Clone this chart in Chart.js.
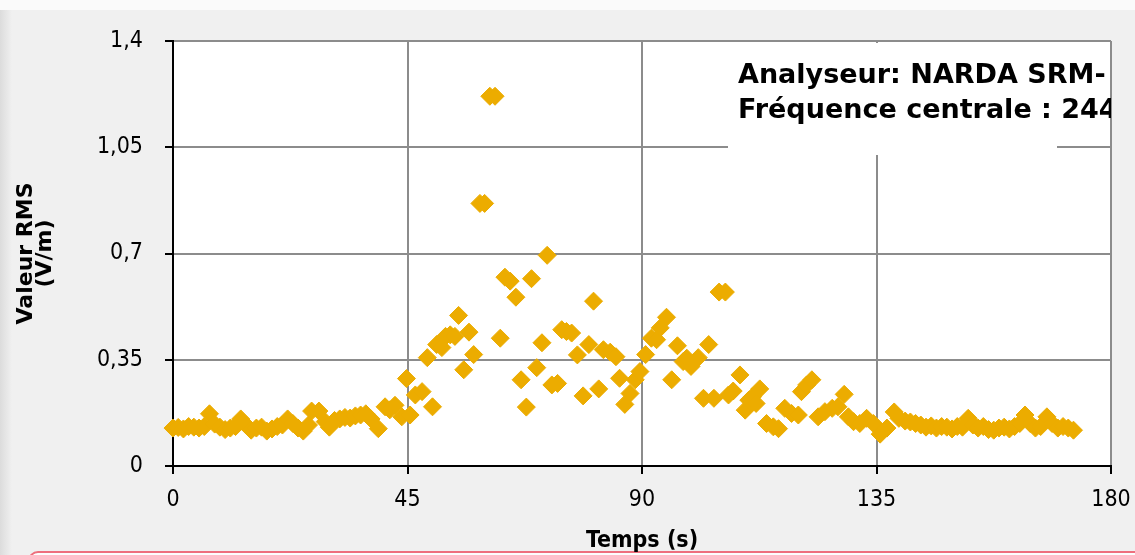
<!DOCTYPE html>
<html>
<head>
<meta charset="utf-8">
<script src="https://cdn.jsdelivr.net/npm/chart.js@4/dist/chart.umd.min.js"></script>
<style>
    html, body { margin: 0; padding: 0; }
    body {
        width: 1135px; height: 555px; overflow: hidden; position: relative;
        background: linear-gradient(to right, #dcdcdc 0px, #f0f0f0 12px, #f0f0f0 100%);
    }
    .top-strip { position: absolute; left: 0; top: 0; width: 1135px; height: 10px; background: #fafafa; }
    .bottom-frame {
        position: absolute; left: 28px; top: 551px; width: 1120px; height: 20px;
        border: 2px solid #ee6f7d; border-radius: 10px; background: #fdfdfd;
    }
    #wrap { position: absolute; left: 0; top: 0; width: 1135px; height: 555px; }
</style>
</head>
<body>
<div class="top-strip"></div>
<div class="bottom-frame"></div>
<div id="wrap"><canvas id="rmsChart" width="1135" height="555"></canvas></div>
<script>
// Temps (s) et valeur RMS (V/m)
const times = [
    0, 1, 2, 3, 4, 5, 6, 7, 8, 9, 10, 11, 12, 13, 14, 15, 16, 17, 18, 19,
    20, 21, 22, 23, 24, 25, 26, 26.6, 28, 29.2, 30, 31, 32, 33, 34, 35, 36, 37, 38, 39.4,
    40.7, 41.6, 42.6, 43.9, 44.8, 45.5, 46.5, 47.8, 48.8, 49.8, 50.6, 51.6, 52.3, 53.2, 54.1, 54.8, 55.8, 56.8, 57.7, 58.9,
    59.8, 60.8, 61.8, 62.8, 63.7, 64.7, 65.8, 66.8, 67.8, 68.8, 69.8, 70.8, 71.8, 72.7, 73.8, 74.6, 75.5, 76.5, 77.6, 78.7,
    79.8, 80.7, 81.7, 82.6, 83.9, 85, 85.7, 86.7, 87.7, 88.7, 89.6, 90.7, 91.8, 92.8, 93.5, 94.7, 95.7, 96.8, 97.9, 98.6,
    99.4, 100.8, 101.8, 102.8, 103.8, 104.8, 106, 106.6, 107.5, 108.8, 109.8, 110.5, 111.2, 111.9, 112.6, 113.9, 115.2, 116.2, 117.4, 118.7,
    120, 120.6, 121.6, 122.6, 123.8, 125.1, 126.5, 127.6, 128.8, 129.6, 130.6, 131.8, 133.1, 134.4, 135.7, 137, 138.4, 139.3, 140.5, 141.5,
    142.5, 143.5, 144.5, 145.5, 146.5, 147.5, 148.5, 149.5, 150.5, 151.5, 152.6, 153.5, 154.5, 155.5, 156.5, 157.5, 158.5, 159.5, 160.5, 161.5,
    162.5, 163.5, 164.5, 165.5, 166.5, 167.7, 168.7, 169.8, 170.8, 171.8, 172.8
];
const rmsValues = [
    0.125, 0.127, 0.122, 0.13, 0.128, 0.125, 0.13, 0.172, 0.138, 0.128, 0.12, 0.125, 0.13, 0.155, 0.135, 0.118, 0.125, 0.128, 0.115, 0.122,
    0.13, 0.135, 0.155, 0.14, 0.125, 0.115, 0.135, 0.181, 0.181, 0.146, 0.128, 0.15, 0.155, 0.16, 0.158, 0.165, 0.168, 0.172, 0.155, 0.123,
    0.195, 0.185, 0.2, 0.162, 0.288, 0.168, 0.234, 0.245, 0.357, 0.195, 0.4, 0.39, 0.427, 0.432, 0.427, 0.496, 0.317, 0.441, 0.367, 0.865,
    0.865, 1.218, 1.218, 0.421, 0.622, 0.609, 0.556, 0.284, 0.194, 0.617, 0.324, 0.406, 0.694, 0.267, 0.272, 0.449, 0.443, 0.438, 0.366, 0.231,
    0.4, 0.543, 0.254, 0.383, 0.375, 0.36, 0.289, 0.203, 0.239, 0.284, 0.311, 0.367, 0.421, 0.416, 0.455, 0.49, 0.284, 0.396, 0.344, 0.355,
    0.328, 0.357, 0.223, 0.4, 0.223, 0.573, 0.573, 0.234, 0.247, 0.3, 0.184, 0.217, 0.228, 0.206, 0.254, 0.14, 0.129, 0.123, 0.19, 0.173,
    0.168, 0.245, 0.267, 0.284, 0.162, 0.179, 0.19, 0.195, 0.236, 0.162, 0.146, 0.14, 0.157, 0.14, 0.105, 0.125, 0.178, 0.157, 0.148, 0.145,
    0.14, 0.135, 0.128, 0.132, 0.125, 0.13, 0.128, 0.122, 0.13, 0.128, 0.157, 0.135, 0.125, 0.13, 0.12, 0.118, 0.125, 0.128, 0.122, 0.13,
    0.14, 0.168, 0.14, 0.125, 0.13, 0.162, 0.14, 0.125, 0.13, 0.125, 0.118
];
const xTicks = [0, 45, 90, 135, 180];
const yTicks = [0, 0.35, 0.7, 1.05, 1.4];
const noteLines = ['Analyseur: NARDA SRM-', 'Fréquence centrale : 244'];

// fond blanc de la zone de tracé
const plotBackground = {
    id: 'plotBackground',
    beforeDraw(chart) {
        const {ctx, chartArea: a} = chart;
        ctx.save();
        ctx.fillStyle = '#ffffff';
        ctx.fillRect(a.left, a.top, a.right - a.left, a.bottom - a.top);
        ctx.restore();
    }
};

// encart texte (coupé au bord de la zone de tracé)
const noteBox = {
    id: 'noteBox',
    beforeDatasetsDraw(chart) {
        const {ctx, chartArea: a} = chart;
        ctx.save();
        ctx.fillStyle = '#ffffff';
        ctx.fillRect(728, a.top + 2, 329, 112);
        ctx.beginPath();
        ctx.rect(a.left, a.top, a.right - a.left, a.bottom - a.top);
        ctx.clip();
        ctx.fillStyle = '#000000';
        ctx.font = 'bold 27px "DejaVu Sans"';
        ctx.textBaseline = 'alphabetic';
        ctx.fillText(noteLines[0], 738, 83);
        ctx.fillText(noteLines[1], 738, 118);
        ctx.restore();
    }
};

function initRmsChart() {
    const ctx = document.getElementById('rmsChart');
    new Chart(ctx, {
        type: 'scatter',
        data: {
            datasets: [{
                data: times.map((t, i) => ({x: t, y: rmsValues[i]})),
                pointStyle: 'rectRot',
                pointRadius: 9,
                backgroundColor: '#ecac00',
                borderColor: '#ecac00',
                borderWidth: 1,
                clip: false
            }]
        },
        options: {
            responsive: false,
            animation: false,
            devicePixelRatio: 1,
            layout: { padding: { left: 0, top: 41, right: 24, bottom: 0 } },
            plugins: { legend: { display: false }, tooltip: { enabled: false } },
            scales: {
                x: {
                    type: 'linear', min: 0, max: 180,
                    afterBuildTicks: s => { s.ticks = xTicks.map(v => ({value: v})); },
                    afterFit: s => { s.height = 89; s.paddingLeft = 0; s.paddingRight = 0; },
                    grid: { color: '#8c8c8c', lineWidth: 2, tickLength: 8, tickColor: '#000', tickWidth: 2 },
                    border: { color: '#000', width: 2 },
                    ticks: { color: '#000', padding: 12, maxRotation: 0, font: { family: 'DejaVu Sans Condensed', size: 23 } },
                    title: {
                        display: true, text: 'Temps (s)', color: '#000',
                        font: { family: 'DejaVu Sans Condensed', size: 23, weight: 'bold' },
                        padding: { top: 0, bottom: 0 }
                    }
                },
                y: {
                    type: 'linear', min: 0, max: 1.4,
                    afterBuildTicks: s => { s.ticks = yTicks.map(v => ({value: v})); },
                    afterFit: s => { s.width = 173; s.paddingTop = 0; s.paddingBottom = 0; },
                    grid: { color: '#8c8c8c', lineWidth: 2, tickLength: 8, tickColor: '#000', tickWidth: 2 },
                    border: { color: '#000', width: 2 },
                    ticks: {
                        color: '#000', padding: 22, font: { family: 'DejaVu Sans Condensed', size: 23 },
                        callback: v => String(v).replace('.', ',')
                    },
                    title: {
                        display: true, text: ['Valeur RMS', '(V/m)'], color: '#000',
                        font: { family: 'DejaVu Sans', size: 22, weight: 'bold', lineHeight: 0.86 },
                        padding: { top: 17, bottom: 0 }
                    }
                }
            }
        },
        plugins: [plotBackground, noteBox]
    });
}

document.addEventListener('DOMContentLoaded', initRmsChart);
</script>
</body>
</html>
